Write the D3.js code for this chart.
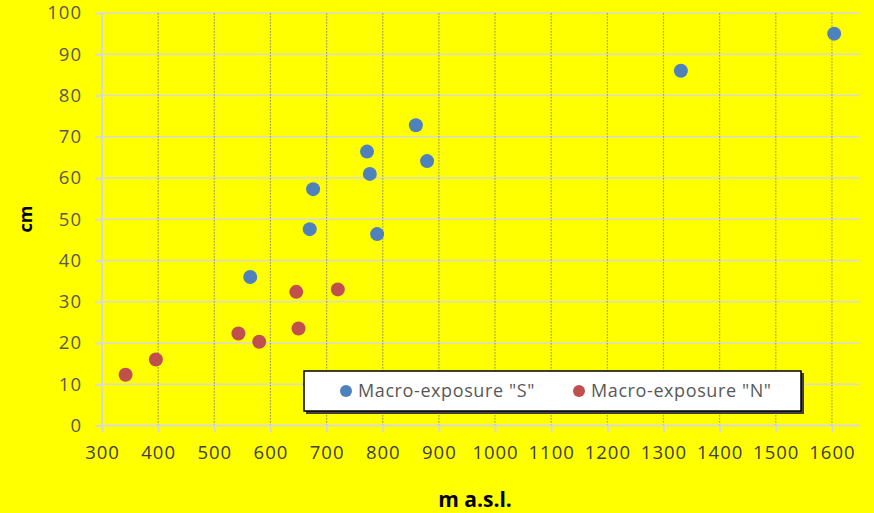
<!DOCTYPE html>
<html><head><meta charset="utf-8">
<script src="https://cdn.jsdelivr.net/npm/d3@7"></script>
<style>body{margin:0;background:#ffff00;} svg{display:block;}</style>
</head><body>
<svg id="c" width="874" height="513"></svg>
<script>
const seriesNames = ['Macro-exposure "S"', 'Macro-exposure "N"'];
const colors = ["#4f81bd", "#c0504d"];
const sX = [564, 670, 676, 772, 777, 790, 859, 879, 1331, 1604];
const sY = [36.0, 47.6, 57.3, 66.4, 61.0, 46.4, 72.8, 64.1, 86.0, 95.0];
const nX = [342, 396, 543, 580, 646, 650, 720];
const nY = [12.3, 16.0, 22.3, 20.3, 32.4, 23.5, 33.0];
const xTicks = [300,400,500,600,700,800,900,1000,1100,1200,1300,1400,1500,1600];
const yTicks = [0,10,20,30,40,50,60,70,80,90,100];

const svg = d3.select("#c");
const font = "'Open Sans', sans-serif";
const x = d3.scaleLinear().domain([300, 1650]).range([102, 860]);
const y = d3.scaleLinear().domain([0, 100]).range([425.5, 13]);

svg.append("rect").attr("width",874).attr("height",513).attr("fill","#ffff00");

// horizontal grid
svg.append("g").selectAll("line").data(yTicks.filter(d=>d>0)).join("line")
  .attr("x1", x(300)).attr("x2", x(1650))
  .attr("y1", d=>y(d)).attr("y2", d=>y(d))
  .attr("stroke", "#d9d9d9").attr("stroke-width", 1.5);
// vertical grid dotted
svg.append("g").selectAll("line").data(xTicks.filter(d=>d>300)).join("line")
  .attr("x1", d=>x(d)).attr("x2", d=>x(d))
  .attr("y1", y(0)).attr("y2", y(100))
  .attr("stroke", "#808080").attr("stroke-width", 1.2).attr("stroke-dasharray","1.2,1.8");

// axes
const yAxis = d3.axisLeft(y).tickValues(yTicks).tickSize(7).tickPadding(13).tickFormat(d3.format("d"));
const gy = svg.append("g").attr("transform", `translate(${x(300)},0)`).call(yAxis);
const xAxis = d3.axisBottom(x).tickValues(xTicks).tickSize(7).tickPadding(13).tickFormat(d3.format("d"));
const gx = svg.append("g").attr("transform", `translate(0,${y(0)})`).call(xAxis);
[gx, gy].forEach(g => {
  g.attr("font-size", null).attr("font-family", null);
  g.select(".domain").attr("stroke", "#d9d9d9").attr("stroke-width", 2);
  g.selectAll(".tick line").attr("stroke", "#d9d9d9").attr("stroke-width", 2);
  g.selectAll("text").style("font-family", font).style("font-size", "18.5px")
    .style("letter-spacing", "1px").attr("fill", "#595959");
});
gx.select(".domain").attr("d", `M${x(300)},0H${x(1650)}`);
gy.select(".domain").attr("d", `M0,${y(0)}V${y(100)}`);
gx.selectAll("text").attr("fill", "#404040");

// points
const series = [
  {x: sX, y: sY, c: colors[0]},
  {x: nX, y: nY, c: colors[1]}
];
series.forEach(s => {
  svg.append("g").selectAll("circle").data(s.x.map((v,i)=>[v, s.y[i]])).join("circle")
    .attr("cx", d=>x(d[0])).attr("cy", d=>y(d[1])).attr("r", 7).attr("fill", s.c);
});

// axis titles
svg.append("text").attr("transform", "translate(32,219) rotate(-90)")
  .attr("text-anchor","middle").style("font-family", font).attr("font-weight","bold")
  .style("font-size", "18px").attr("fill","#000").text("cm");
svg.append("text").attr("x", 475).attr("y", 507)
  .attr("text-anchor","middle").style("font-family", font).attr("font-weight","bold")
  .style("font-size", "21px").attr("fill","#000").text("m a.s.l.");

// legend
const lg = svg.append("g");
lg.append("rect").attr("x", 306).attr("y", 373).attr("width", 498).attr("height", 41).attr("fill", "#404040");
lg.append("rect").attr("x", 304).attr("y", 371).attr("width", 497).attr("height", 40)
  .attr("fill", "#fff").attr("stroke", "#000").attr("stroke-width", 1.5);
const lx = [346, 579];
seriesNames.forEach((n, i) => {
  lg.append("circle").attr("cx", lx[i]).attr("cy", 391).attr("r", 6).attr("fill", colors[i]);
  lg.append("text").attr("x", lx[i] + 12).attr("y", 397).style("font-family", font)
    .style("font-size", "18px").style("letter-spacing", "0.6px").attr("fill", "#595959").text(n);
});
</script>
</body></html>
